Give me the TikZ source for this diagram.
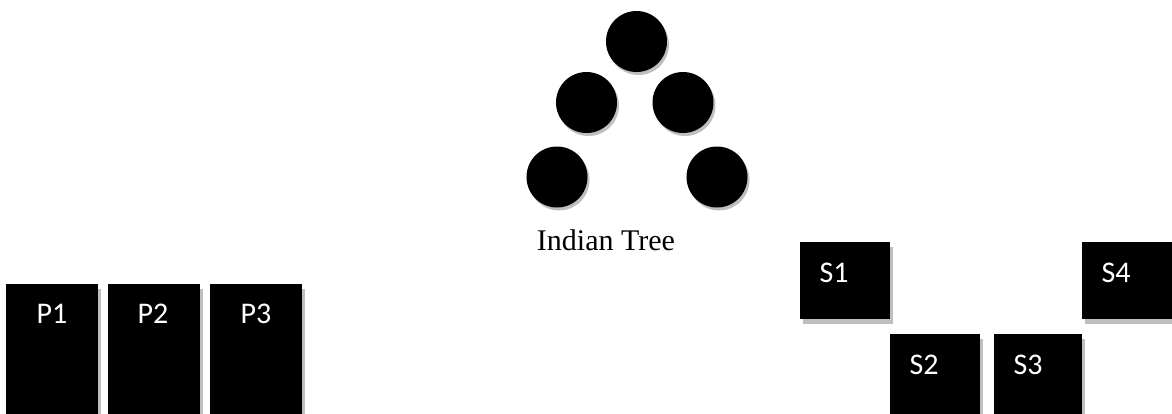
\documentclass[tikz,border=0pt]{standalone}
\usepackage{fontspec}
\setmainfont{Liberation Serif}
\newfontfamily\calib{Carlito}
\usetikzlibrary{shadows}
\begin{document}
\begin{tikzpicture}[x=1pt,y=-1pt,
  blk/.style={rectangle,fill=black,draw=none,inner sep=0pt,
    drop shadow={shadow xshift=3pt,shadow yshift=-5pt,fill=black!25,opacity=1}},
  ball/.style={circle,fill=black,draw=none,inner sep=0pt,minimum size=61pt,
    drop shadow={shadow xshift=2pt,shadow yshift=-3pt,fill=black!25,opacity=1}},
  lab/.style={text=white,font=\calib\fontsize{30}{36}\selectfont,inner sep=0pt},
  treecaption/.style={font=\fontsize{30}{36}\selectfont,inner sep=0pt}]
\useasboundingbox (0,0) rectangle (1172,413);
\clip (0,0) rectangle (1172,413);
% Indian tree
\node[ball] (t1) at (636.5,41.5) {};
\node[ball] (t2) at (586.5,102.5) {};
\node[ball] (t3) at (683,102.5) {};
\node[ball] (t4) at (557,177) {};
\node[ball] (t5) at (717,177) {};
\node[treecaption,anchor=base] (tt) at (606,250) {Indian Tree};
% P boxes
\node[blk,minimum width=92pt,minimum height=150pt] (p1) at (52,359) {};
\node[blk,minimum width=92pt,minimum height=150pt] (p2) at (154,359) {};
\node[blk,minimum width=92pt,minimum height=150pt] (p3) at (256,359) {};
\node[lab] (p1l) at (52,314) {P1};
\node[lab] (p2l) at (153,314) {P2};
\node[lab] (p3l) at (256,314) {P3};
% S boxes
\node[blk,minimum width=90pt,minimum height=77pt] (s1) at (845,280.5) {};
\node[blk,minimum width=100pt,minimum height=77pt] (s4) at (1132,280.5) {};
\node[blk,minimum width=90pt,minimum height=100pt] (s2) at (935,384) {};
\node[blk,minimum width=88pt,minimum height=100pt] (s3) at (1038,384) {};
\node[lab] (s1l) at (834,273) {S1};
\node[lab] (s4l) at (1116,273) {S4};
\node[lab] (s2l) at (924,365) {S2};
\node[lab] (s3l) at (1028,365) {S3};
\end{tikzpicture}
\end{document}
